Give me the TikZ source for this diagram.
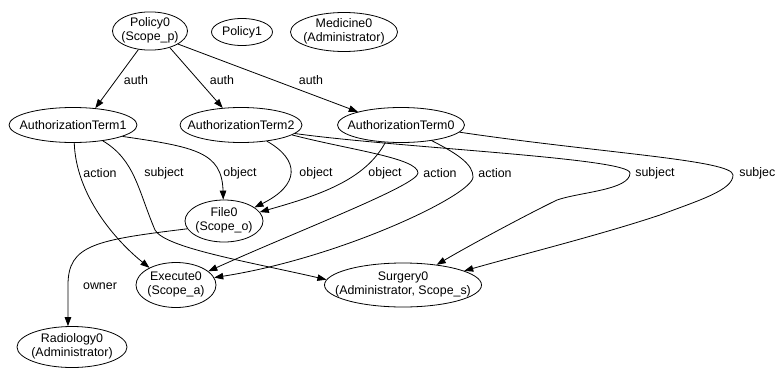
\documentclass[tikz,border=0pt]{standalone}
\usepackage{fontspec}
\setmainfont{Liberation Sans}
\usetikzlibrary{shapes.geometric,arrows.meta}
\newcommand\twol[2]{\makebox[0pt]{\begin{tabular}{@{}c@{}}#1\\#2\end{tabular}}}
\newcommand\onel[1]{\makebox[0pt]{#1}}
\begin{document}
\begin{tikzpicture}[x=1pt,y=-1pt,
  every node/.style={font=\fontsize{12.4}{13.5}\selectfont},
  nd/.style={draw, ellipse, inner sep=0pt, line width=0.8pt},
  lbl/.style={inner sep=0pt},
  edge/.style={draw, line width=0.8pt, -{Triangle[length=9pt,width=6.5pt]}},
]
\useasboundingbox[fill=white] (0,0) rectangle (775,369);

% nodes
\node[nd, minimum width=75pt, minimum height=38pt] (P0) at (150,31) {\twol{Policy0}{(Scope\_p)}};
\node[nd, minimum width=61pt, minimum height=27pt] (P1) at (242,32) {\onel{Policy1}};
\node[nd, minimum width=107pt, minimum height=39pt] (M0) at (344,32) {\twol{Medicine0}{(Administrator)}};
\node[nd, minimum width=128pt, minimum height=35pt] (A1) at (73,125) {\onel{AuthorizationTerm1}};
\node[nd, minimum width=122pt, minimum height=35pt] (A2) at (241,125) {\onel{AuthorizationTerm2}};
\node[nd, minimum width=127pt, minimum height=35pt] (A0) at (401,125) {\onel{AuthorizationTerm0}};
\node[nd, minimum width=78pt, minimum height=42pt] (F0) at (224,221) {\twol{File0}{(Scope\_o)}};
\node[nd, minimum width=80pt, minimum height=45pt] (E0) at (176,285) {\twol{Execute0}{(Scope\_a)}};
\node[nd, minimum width=157pt, minimum height=44pt] (S0) at (403,285) {\twol{Surgery0}{(Administrator, Scope\_s)}};
\node[nd, minimum width=110pt, minimum height=41pt] (R0) at (72,347) {\twol{Radiology0}{(Administrator)}};

% labels
\node[lbl] (la1) at (136,80) {auth};
\node[lbl] (la2) at (222,80) {auth};
\node[lbl] (la3) at (311,80) {auth};
\node[lbl] (lac1) at (100,173) {action};
\node[lbl] (lsu1) at (164,173) {subject};
\node[lbl] (lob1) at (240,173) {object};
\node[lbl] (lob2) at (316,173) {object};
\node[lbl] (lob3) at (385,173) {object};
\node[lbl] (lac2) at (440,173) {action};
\node[lbl] (lac3) at (495,173) {action};
\node[lbl] (lsu2) at (655,173) {subject};
\node[lbl] (lsu3) at (759,173) {subject};
\node[lbl] (low) at (100,286) {owner};

% edges
\draw[edge] (P0.238) -- (A1.37);
\draw[edge] (P0.320) -- (A2.137);
\draw[edge] (P0.335) -- (A0.163);

\draw[edge] (A1.274) .. controls (76,195) and (115,240) .. (E0.147);
\draw[edge] (A1.332) .. controls (135,160) and (138,190) .. (155,230)
  .. controls (165,248) and (250,262) .. (S0.176);
\draw[edge] (A1.347) .. controls (195,147) and (222,152) .. (F0.92);

\draw[edge] (A2.328) .. controls (300,160) and (300,185) .. (F0.24);
\draw[edge] (A0.228) .. controls (365,180) and (320,195) .. (F0.14);

\draw[edge] (A2.349) .. controls (350,150) and (418,158) .. (418,173)
  .. controls (418,185) and (300,230) .. (E0.23);
\draw[edge] (A0.333) .. controls (460,155) and (473,165) .. (473,177)
  .. controls (473,195) and (340,258) .. (E0.11);

\draw[edge] (A2.351) .. controls (400,148) and (630,158) .. (630,173)
  .. controls (630,190) and (580,192) .. (557,200)
  .. controls (530,213) and (470,245) .. (S0.31);
\draw[edge] (A0.353) .. controls (600,153) and (733,160) .. (733,175)
  .. controls (733,190) and (700,200) .. (660,215)
  .. controls (600,235) and (520,255) .. (S0.13);

\draw[edge] (F0.192) .. controls (95,240) and (68,245) .. (68,285) -- (R0.101);
\end{tikzpicture}
\end{document}
